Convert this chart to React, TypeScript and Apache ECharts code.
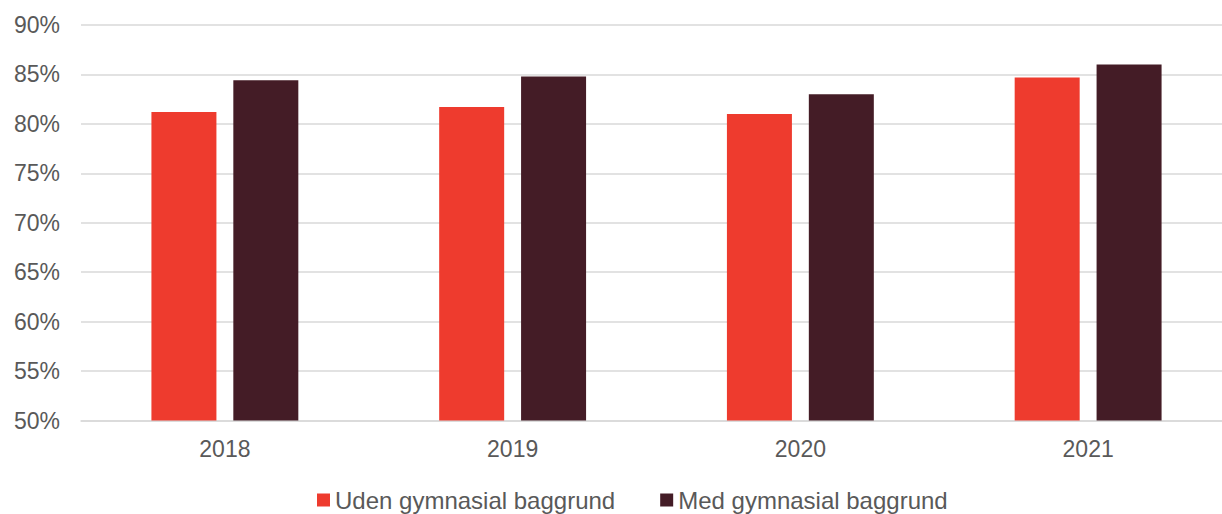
import React, { useEffect, useRef } from "react";
import * as echarts from "echarts";

const categories = ["2018", "2019", "2020", "2021"];
const udenValues = [81.2, 81.7, 81.0, 84.7];
const medValues = [84.4, 84.8, 83.0, 86.0];
const seriesNames = ["Uden gymnasial baggrund", "Med gymnasial baggrund"];

export default function App() {
  const ref = useRef<HTMLDivElement>(null);
  useEffect(() => {
    if (!ref.current) return;
    const chart = echarts.init(ref.current, null, { renderer: "svg" });
    const font = "'Liberation Sans', Arial, sans-serif";
    chart.setOption({
      animation: false,
      backgroundColor: "#ffffff",
      grid: { left: 81, top: 25, right: 8, bottom: 93.5, containLabel: false },
      legend: {
        data: seriesNames,
        top: 488,
        left: 317,
        padding: 0,
        itemWidth: 13,
        itemHeight: 13,
        itemGap: 45,
        icon: "rect",
        textStyle: { fontFamily: font, fontSize: 24, lineHeight: 24, color: "#595959" },
      },
      xAxis: {
        type: "category",
        data: categories,
        axisLine: { show: true, lineStyle: { color: "#d9d9d9", width: 1.5 } },
        axisTick: { show: false },
        axisLabel: { fontFamily: font, fontSize: 23, color: "#595959", margin: 17 },
      },
      yAxis: {
        type: "value",
        min: 50,
        max: 90,
        interval: 5,
        axisLine: { show: false },
        axisTick: { show: false },
        splitLine: { lineStyle: { color: "#d9d9d9", width: 1.5 } },
        axisLabel: {
          fontFamily: font,
          fontSize: 23,
          color: "#595959",
          margin: 21,
          formatter: (v: number) => `${v}%`,
        },
      },
      series: [
        {
          name: seriesNames[0],
          type: "bar",
          data: udenValues,
          barWidth: 65,
          barGap: "26%",
          itemStyle: { color: "#EE3B2E" },
        },
        {
          name: seriesNames[1],
          type: "bar",
          data: medValues,
          barWidth: 65,
          itemStyle: { color: "#441C26" },
        },
      ],
    });
    return () => chart.dispose();
  }, []);
  return (
    <div style={{ position: "fixed", left: 0, top: 0, width: 1222, height: 514, overflow: "hidden", background: "#fff" }}>
      <div ref={ref} style={{ width: 1240, height: 514 }} />
    </div>
  );
}
